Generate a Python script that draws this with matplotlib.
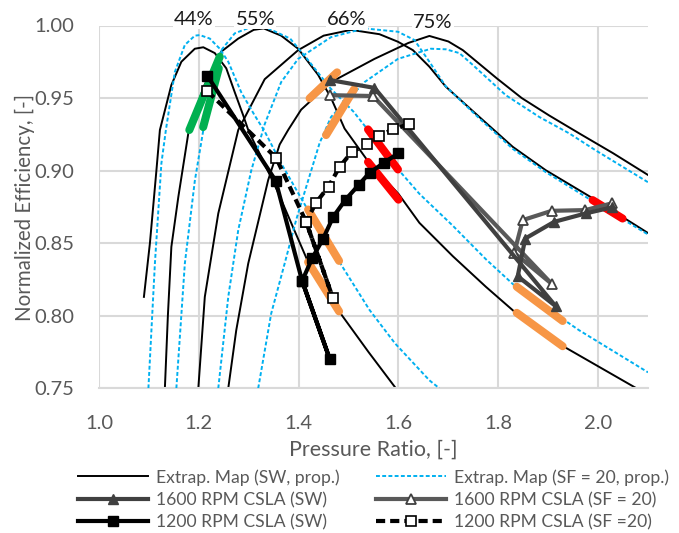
import matplotlib
matplotlib.use('Agg')
import matplotlib.pyplot as plt

plt.rcParams['font.family'] = ['Lato', 'DejaVu Sans']

# ---------------- data ----------------
# Extrapolated map, SW (black solid)
sw44_pr  = [1.090, 1.102, 1.115, 1.122, 1.145, 1.165, 1.192, 1.209, 1.232, 1.255, 1.272, 1.289, 1.300, 1.330, 1.360, 1.390, 1.419, 1.450, 1.481, 1.540, 1.597]
sw44_eta = [0.813, 0.850, 0.900, 0.928, 0.959, 0.975, 0.984, 0.985, 0.981, 0.9705, 0.954, 0.938, 0.927, 0.906, 0.884, 0.860, 0.837, 0.819, 0.803, 0.775, 0.749]
sw55_pr  = [1.132, 1.138, 1.145, 1.159, 1.180, 1.210, 1.245, 1.279, 1.310, 1.330, 1.365, 1.399, 1.439, 1.465, 1.492, 1.540, 1.600, 1.642, 1.709, 1.775, 1.835, 1.930, 2.082]
sw55_eta = [0.750, 0.800, 0.8475, 0.882, 0.928, 0.958, 0.982, 0.991, 0.997, 0.998, 0.993, 0.984, 0.966, 0.950, 0.929, 0.906, 0.884, 0.864, 0.841, 0.820, 0.802, 0.779, 0.749]
sw66_pr  = [1.199, 1.212, 1.239, 1.279, 1.332, 1.399, 1.450, 1.505, 1.562, 1.599, 1.629, 1.662, 1.695, 1.762, 1.829, 1.895, 1.989, 2.100]
sw66_eta = [0.750, 0.813, 0.8705, 0.928, 0.963, 0.983, 0.993, 0.997, 0.994, 0.9888, 0.983, 0.9716, 0.9578, 0.937, 0.9164, 0.9003, 0.881, 0.857]
sw75_pr  = [1.259, 1.275, 1.299, 1.339, 1.362, 1.379, 1.405, 1.465, 1.552, 1.620, 1.662, 1.700, 1.729, 1.797, 1.847, 1.902, 1.962, 2.030, 2.100]
sw75_eta = [0.750, 0.790, 0.836, 0.8935, 0.918, 0.928, 0.942, 0.961, 0.977, 0.988, 0.9928, 0.989, 0.983, 0.9636, 0.950, 0.938, 0.9257, 0.912, 0.897]

# Extrapolated map, SF = 20 (blue dashed)
sf44_pr  = [1.099, 1.112, 1.125, 1.134, 1.152, 1.172, 1.192, 1.202, 1.222, 1.242, 1.259, 1.285, 1.312, 1.332, 1.365, 1.420, 1.480, 1.542, 1.593, 1.662, 1.682]
sf44_eta = [0.750, 0.836, 0.905, 0.928, 0.968, 0.9866, 0.993, 0.9934, 0.991, 0.984, 0.975, 0.954, 0.938, 0.927, 0.905, 0.872, 0.838, 0.804, 0.781, 0.7555, 0.750]
sf55_pr  = [1.155, 1.172, 1.192, 1.209, 1.225, 1.245, 1.272, 1.305, 1.330, 1.383, 1.417, 1.463, 1.510, 1.539, 1.599, 1.642, 1.709, 1.775, 1.835, 1.962, 2.100]
sf55_eta = [0.750, 0.836, 0.893, 0.928, 0.962, 0.983, 0.9946, 0.999, 0.9995, 0.991, 0.977, 0.957, 0.9406, 0.928, 0.901, 0.884, 0.862, 0.839, 0.820, 0.790, 0.761]
sf66_pr  = [1.239, 1.259, 1.279, 1.305, 1.332, 1.365, 1.399, 1.465, 1.532, 1.599, 1.632, 1.662, 1.695, 1.762, 1.829, 1.895, 1.989, 2.100]
sf66_eta = [0.750, 0.813, 0.859, 0.900, 0.932, 0.961, 0.977, 0.992, 0.998, 0.9957, 0.990, 0.975, 0.958, 0.936, 0.915, 0.899, 0.879, 0.856]
sf75_pr  = [1.319, 1.345, 1.372, 1.395, 1.442, 1.465, 1.532, 1.599, 1.665, 1.695, 1.722, 1.749, 1.815, 1.882, 1.942, 1.995, 2.100]
sf75_eta = [0.750, 0.8015, 0.836, 0.866, 0.919, 0.937, 0.961, 0.977, 0.984, 0.9836, 0.981, 0.9728, 0.952, 0.937, 0.9257, 0.914, 0.892]

# CSLA results
c1600_sw_pr  = [1.463, 1.552, 1.915, 1.839, 1.854, 1.912, 1.975, 2.027]
c1600_sw_eta = [0.9624, 0.957, 0.8066, 0.8272, 0.8532, 0.8647, 0.8705, 0.8746]
c1600_sf_pr  = [1.463, 1.549, 1.907, 1.832, 1.849, 1.907, 1.974, 2.027]
c1600_sf_eta = [0.952, 0.9514, 0.822, 0.8433, 0.8659, 0.8723, 0.8728, 0.8774]
c1200_sw_pr  = [1.217, 1.354, 1.407, 1.462, 1.407, 1.427, 1.449, 1.469, 1.494, 1.520, 1.542, 1.571, 1.599]
c1200_sw_eta = [0.9654, 0.893, 0.824, 0.7705, 0.824, 0.8395, 0.853, 0.868, 0.880, 0.890, 0.8985, 0.9054, 0.9118]
c1200_sf_pr  = [1.217, 1.355, 1.415, 1.469, 1.415, 1.435, 1.460, 1.482, 1.507, 1.537, 1.562, 1.590, 1.621]
c1200_sf_eta = [0.9548, 0.9088, 0.8647, 0.8119, 0.8647, 0.878, 0.889, 0.9026, 0.913, 0.918, 0.924, 0.9286, 0.932]

# highlighted operating-range segments (pr pair, eta pair)
green_pr  = [[1.181, 1.242], [1.2087, 1.240]]
green_eta = [[0.928, 0.9785], [0.930, 0.9705]]
orange_pr  = [[1.422, 1.477], [1.455, 1.511], [1.419, 1.481], [1.419, 1.481], [1.837, 1.929], [1.837, 1.929]]
orange_eta = [[0.9498, 0.9677], [0.9245, 0.956], [0.8732, 0.8378], [0.837, 0.803], [0.820, 0.7964], [0.802, 0.779]]
red_pr  = [[1.539, 1.599], [1.539, 1.600], [1.989, 2.049]]
red_eta = [[0.9284, 0.9008], [0.906, 0.880], [0.8797, 0.867]]

speed_labels = ['44%', '55%', '66%', '75%']
speed_label_pr = [1.190, 1.313, 1.497, 1.669]
speed_label_eta = [1.0042, 1.0042, 1.0040, 1.0022]

x_ticks = [1.0, 1.2, 1.4, 1.6, 1.8, 2.0]
y_ticks = [0.75, 0.80, 0.85, 0.90, 0.95, 1.00]

# ---------------- figure ----------------
W, H = 679, 533
fig = plt.figure(figsize=(W / 100, H / 100), dpi=100)
ax = fig.add_axes([99 / W, 1 - 388.3 / H, (648 - 99) / W, (388.3 - 25.5) / H])

BLUE = '#00B0F0'
GRID = '#D9D9D9'
TXT = '#595959'

lw_map = 1.4
blue_ls = (0, (2.0, 1.2))
h_sw = None
for pr, eta in [(sw44_pr, sw44_eta), (sw55_pr, sw55_eta), (sw66_pr, sw66_eta), (sw75_pr, sw75_eta)]:
    h_sw, = ax.plot(pr, eta, color='black', lw=lw_map, zorder=2)
for pr, eta in [(sf44_pr, sf44_eta), (sf55_pr, sf55_eta), (sf66_pr, sf66_eta), (sf75_pr, sf75_eta)]:
    h_sf, = ax.plot(pr, eta, color=BLUE, lw=lw_map, ls=blue_ls, zorder=3)

seg_lw = 5.8
for col, prs, etas in [('#00B050', green_pr, green_eta), ('#F79646', orange_pr, orange_eta), ('#FF0000', red_pr, red_eta)]:
    for p, e in zip(prs, etas):
        ax.plot(p, e, color=col, lw=seg_lw, solid_capstyle='round', zorder=4)

h16sf, = ax.plot(c1600_sf_pr, c1600_sf_eta, color='#595959', lw=3, marker='^', ms=7,
                 mfc='white', mec='#404040', mew=1.3, zorder=5)
h16sw, = ax.plot(c1600_sw_pr, c1600_sw_eta, color='#404040', lw=3, marker='^', ms=7,
                 mfc='#404040', mec='#404040', zorder=6)
h12sw, = ax.plot(c1200_sw_pr, c1200_sw_eta, color='black', lw=3, marker='s', ms=7,
                 mfc='black', mec='black', zorder=7)
h12sf, = ax.plot(c1200_sf_pr, c1200_sf_eta, color='black', lw=3, ls=(0, (2.2, 1.2)), marker='s', ms=7,
                 mfc='white', mec='black', mew=1.2, zorder=8)

for lab, xp, yp in zip(speed_labels, speed_label_pr, speed_label_eta):
    ax.text(xp, yp, lab, ha='center', va='center', fontsize=14.5, color='#1a1a1a',
            bbox=dict(facecolor='white', edgecolor='none', pad=1.0), zorder=10, clip_on=False)

ax.set_xlim(1.0, 2.1)
ax.set_ylim(0.75, 1.00)
ax.set_xticks(x_ticks)
ax.set_yticks(y_ticks)
ax.set_xticklabels([f'{v:.1f}' for v in x_ticks])
ax.set_yticklabels([f'{v:.2f}' for v in y_ticks])
ax.grid(True, color=GRID, lw=1.5, zorder=0)
ax.set_axisbelow(True)
for s in ['top', 'right', 'left']:
    ax.spines[s].set_visible(False)
ax.spines['bottom'].set_color(GRID)
ax.spines['bottom'].set_linewidth(1.5)
ax.tick_params(length=0, labelsize=14.5, labelcolor=TXT)
ax.tick_params(axis='x', pad=19.5)
ax.tick_params(axis='y', pad=18)

fig.text(373.5 / W, 1 - 450 / H, 'Pressure Ratio, [-]', ha='center', va='center', fontsize=15.5, color=TXT)
fig.text(25 / W, 1 - 207 / H, 'Normalized Efficiency, [-]', ha='center', va='center', rotation=90,
         fontsize=14.8, color=TXT)

leg_kw = dict(frameon=False, fontsize=12.6, handlelength=4.0, handletextpad=0.43, labelspacing=0.36,
              borderpad=0, borderaxespad=0, loc='upper left', labelcolor=TXT)
fig.legend([h_sw, h16sw, h12sw], ['Extrap. Map (SW, prop.)', '1600 RPM CSLA (SW)', '1200 RPM CSLA (SW)'],
           bbox_to_anchor=(78 / W, 1 - 469 / H), **leg_kw)
fig.legend([h_sf, h16sf, h12sf], ['Extrap. Map (SF = 20, prop.)', '1600 RPM CSLA (SF = 20)', '1200 RPM CSLA (SF =20)'],
           bbox_to_anchor=(376 / W, 1 - 469 / H), **leg_kw)

fig.savefig('out.png', dpi=100)
